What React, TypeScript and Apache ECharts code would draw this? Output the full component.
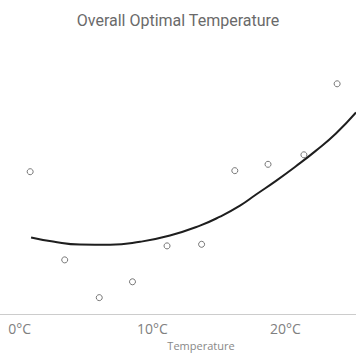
import React, { useEffect, useRef } from "react";
import * as echarts from "echarts";

const titleText = "Overall Optimal Temperature";
const axisName = "Temperature";
const tickValues = [0, 10, 20];

const pointTemps = [0.8, 3.4, 6.0, 8.5, 11.1, 13.7, 16.2, 18.7, 21.4, 23.9];
const pointScores = [53.9, 20.5, 6.2, 12.2, 25.8, 26.4, 54.3, 56.7, 60.3, 87.2];

const trendTemps = [0.87, 2.52, 4.55, 6.81, 9.07, 11.32, 13.58, 15.09, 16.59, 17.8, 19.3, 20.8, 22.31, 23.81, 25.32];
const trendScores = [28.98, 27.42, 26.29, 26.21, 27.35, 29.73, 33.48, 36.89, 41.06, 45.27, 50.45, 55.98, 61.89, 68.37, 76.33];

export default function App() {
  const ref = useRef<HTMLDivElement>(null);
  useEffect(() => {
    document.body.style.margin = "0";
    if (!ref.current) return;
    const chart = echarts.init(ref.current, undefined, { renderer: "svg" });
    chart.setOption({
      animation: false,
      title: {
        text: titleText,
        left: "center",
        top: 7,
        textStyle: { fontFamily: "Roboto", fontSize: 16, fontWeight: "normal", color: "#6a6a6a" },
      },
      grid: { left: 0, right: 0, top: 50, bottom: 50 },
      xAxis: {
        type: "value",
        min: -1.47,
        max: 25.32,
        name: axisName,
        nameLocation: "middle",
        nameGap: 23,
        nameTextStyle: { fontFamily: "Open Sans", fontSize: 11, color: "#888", padding: [0, 0, 0, 46] },
        axisLine: { show: true, lineStyle: { color: "#ccc", width: 1 } },
        axisTick: { show: false },
        splitLine: { show: false },
        axisLabel: {
          customValues: tickValues,
          formatter: (v: number) => v + "°C",
          fontFamily: "Open Sans",
          fontSize: 14,
          color: "#808080",
          margin: 7,
        },
      },
      yAxis: {
        type: "value",
        min: 0,
        max: 100,
        show: false,
        splitLine: { show: false },
      },
      series: [
        {
          type: "line",
          data: trendTemps.map((t, i) => [t, trendScores[i]]),
          smooth: true,
          showSymbol: false,
          lineStyle: { color: "#1e1e1e", width: 2 },
          clip: true,
          z: 1,
        },
        {
          type: "scatter",
          data: pointTemps.map((t, i) => [t, pointScores[i]]),
          symbol: "circle",
          symbolSize: 6,
          itemStyle: { color: "#fff", borderColor: "#555", borderWidth: 1 },
          z: 2,
        },
      ],
    });
    return () => chart.dispose();
  }, []);
  return <div ref={ref} style={{ width: 356, height: 364 }} />;
}
